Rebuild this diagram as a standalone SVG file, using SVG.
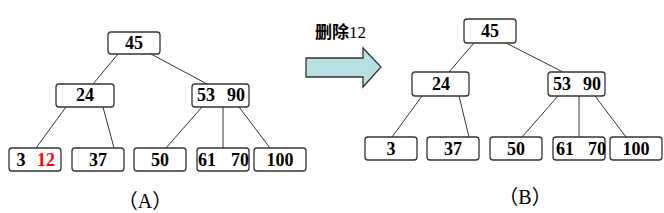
<svg xmlns="http://www.w3.org/2000/svg" width="664" height="213" viewBox="0 0 664 213">
<style>
.n rect{fill:#fff;stroke:#333;stroke-width:1.3}
.n text{font-family:"Liberation Serif","Times New Roman",serif;font-weight:bold;font-size:18px;fill:#000;text-anchor:middle}
.c line{stroke:#333;stroke-width:1}
.lab{font-family:"Liberation Serif","Noto Sans CJK SC",serif;font-size:20px;fill:#000;text-anchor:middle}
</style>
<rect width="664" height="213" fill="#fff"/>
<g class="c" id="connectors">
<line x1="118" y1="54" x2="93" y2="84"/>
<line x1="151" y1="54" x2="207" y2="84"/>
<line x1="66" y1="107" x2="36" y2="148"/>
<line x1="103" y1="107" x2="114" y2="148"/>
<line x1="202" y1="107" x2="166" y2="148"/>
<line x1="223" y1="107" x2="223" y2="148"/>
<line x1="239" y1="107" x2="270" y2="148"/>
<line x1="474" y1="43" x2="449" y2="72"/>
<line x1="506" y1="43" x2="563" y2="72"/>
<line x1="422" y1="96" x2="392" y2="137"/>
<line x1="459" y1="96" x2="469" y2="137"/>
<line x1="558" y1="96" x2="522" y2="137"/>
<line x1="579" y1="96" x2="579" y2="137"/>
<line x1="595" y1="96" x2="626" y2="137"/>
</g>
<g class="n" id="a45"><rect x="108" y="32" width="52" height="22" rx="3"/><text x="134" y="49">45</text></g>
<g class="n" id="a24"><rect x="56" y="84" width="58" height="23" rx="3"/><text x="85" y="101">24</text></g>
<g class="n" id="a5390"><rect x="192" y="84" width="57" height="23" rx="3"/><text x="206" y="101">53</text><text x="236" y="101">90</text></g>
<g class="n" id="a312"><rect x="9" y="148" width="52" height="23" rx="3"/><text x="21" y="166">3</text><text x="46" y="166" style="fill:#f00">12</text></g>
<g class="n" id="a37"><rect x="72" y="148" width="52" height="23" rx="3"/><text x="98" y="166">37</text></g>
<g class="n" id="a50"><rect x="134" y="148" width="52" height="23" rx="3"/><text x="160" y="166">50</text></g>
<g class="n" id="a6170"><rect x="197" y="148" width="52" height="23" rx="3"/><text x="207" y="166">61</text><text x="240" y="166">70</text></g>
<g class="n" id="a100"><rect x="254" y="148" width="52" height="23" rx="3"/><text x="280" y="166">100</text></g>
<g class="n" id="b45"><rect x="464" y="19" width="52" height="24" rx="3"/><text x="490" y="37">45</text></g>
<g class="n" id="b24"><rect x="412" y="72" width="57" height="24" rx="3"/><text x="441" y="90">24</text></g>
<g class="n" id="b5390"><rect x="548" y="72" width="57" height="24" rx="3"/><text x="562" y="90">53</text><text x="592" y="90">90</text></g>
<g class="n" id="b3"><rect x="365" y="137" width="52" height="23" rx="3"/><text x="391" y="155">3</text></g>
<g class="n" id="b37"><rect x="427" y="137" width="52" height="23" rx="3"/><text x="453" y="155">37</text></g>
<g class="n" id="b50"><rect x="490" y="137" width="52" height="23" rx="3"/><text x="516" y="155">50</text></g>
<g class="n" id="b6170"><rect x="553" y="137" width="52" height="23" rx="3"/><text x="565" y="155">61</text><text x="597" y="155">70</text></g>
<g class="n" id="b100"><rect x="610" y="137" width="52" height="23" rx="3"/><text x="636" y="155">100</text></g>
<g id="arrow">
<polygon points="306,58 363,58 363,48 381,67 363,87 363,77 306,77" fill="#b8dfe2" stroke="#333" stroke-width="1.3"/>
<text x="315" y="38" font-family="'Liberation Serif','Noto Sans CJK SC',serif" font-size="17px" fill="#000"><tspan font-weight="bold">删除</tspan><tspan>12</tspan></text>
</g>
<text class="lab" x="145" y="208">（A）</text>
<text class="lab" x="525" y="204">（B）</text>
</svg>
